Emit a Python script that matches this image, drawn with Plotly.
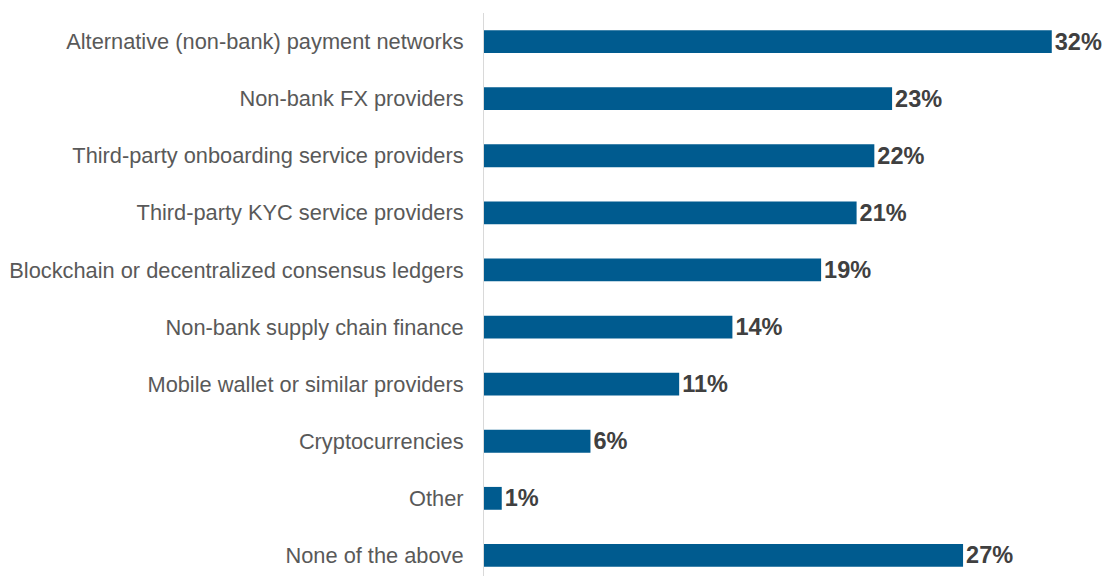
import plotly.graph_objects as go

categories = [
    "Alternative (non-bank) payment networks",
    "Non-bank FX providers",
    "Third-party onboarding service providers",
    "Third-party KYC service providers",
    "Blockchain or decentralized consensus ledgers",
    "Non-bank supply chain finance",
    "Mobile wallet or similar providers",
    "Cryptocurrencies",
    "Other",
    "None of the above",
]
values = [32, 23, 22, 21, 19, 14, 11, 6, 1, 27]
value_labels = [f"{v}%" for v in values]

fig = go.Figure(
    go.Bar(
        x=values,
        y=categories,
        orientation="h",
        marker=dict(color="#005b8f", line=dict(width=0)),
        width=0.4,
        text=value_labels,
        textposition="outside",
        constraintext="none",
        cliponaxis=False,
        textfont=dict(family="Liberation Sans, Arial, sans-serif", size=23.5, color="#404040", weight="bold"),
    )
)

fig.update_layout(
    width=1109,
    height=576,
    margin=dict(l=484, r=4, t=13, b=0),
    paper_bgcolor="white",
    plot_bgcolor="white",
    showlegend=False,
    font=dict(family="Liberation Sans, Arial, sans-serif"),
    xaxis=dict(
        range=[0, 35],
        showgrid=False,
        zeroline=False,
        showticklabels=False,
        showline=False,
    ),
    yaxis=dict(
        type="category",
        categoryorder="array",
        categoryarray=categories,
        range=[9.36, -0.5],
        showgrid=False,
        zeroline=False,
        showline=True,
        linecolor="#d9d9d9",
        linewidth=1,
        ticks="outside",
        ticklen=15,
        tickcolor="rgba(0,0,0,0)",
        tickfont=dict(size=21.8, color="#595959"),
    ),
)

fig.write_html("out.html")
